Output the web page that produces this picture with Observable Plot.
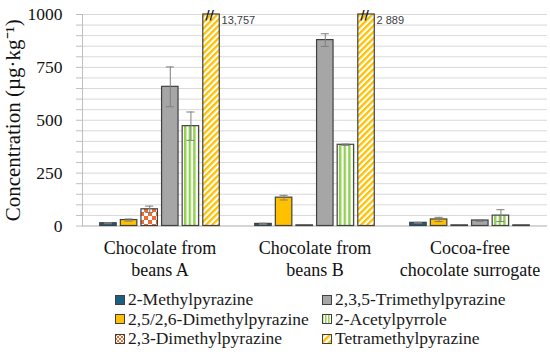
<!DOCTYPE html>
<html><head><meta charset="utf-8">
<script src="https://cdn.jsdelivr.net/npm/d3@7"></script>
<script src="https://cdn.jsdelivr.net/npm/@observablehq/plot@0.6"></script>
<style>
body{margin:0;background:#fff;width:550px;height:355px;overflow:hidden;position:relative;
  font-family:"Liberation Serif","Times New Roman",serif;color:#1a1a1a;}
#legend{position:absolute;left:115px;top:290px;display:grid;grid-template-columns:207px auto;
  grid-template-rows:repeat(3,19.5px);grid-auto-flow:column;font-size:17.5px;line-height:19.5px;}
.item{display:flex;align-items:center;white-space:nowrap}
.item svg{margin-right:3px;flex:none}
</style></head><body>
<svg width="0" height="0" style="position:absolute"><defs>
<pattern id="pChecker" width="8" height="8" patternUnits="userSpaceOnUse"><rect width="8" height="8" fill="#fff"/><rect width="4" height="4" fill="#ee6b33"/><rect x="4" y="4" width="4" height="4" fill="#ee6b33"/></pattern>
<pattern id="pVert" width="4.6" height="10" patternUnits="userSpaceOnUse"><rect width="4.6" height="10" fill="#fff"/><rect width="2.4" height="10" fill="#92d050"/></pattern>
<pattern id="pDiag" width="4.4" height="10" patternUnits="userSpaceOnUse" patternTransform="rotate(45)"><rect width="4.4" height="10" fill="#fff"/><rect width="2.3" height="10" fill="#ffc000"/></pattern>
<pattern id="pCheckerS" width="4" height="4" patternUnits="userSpaceOnUse"><rect width="4" height="4" fill="#fff"/><rect width="2" height="2" fill="#ee6b33"/><rect x="2" y="2" width="2" height="2" fill="#ee6b33"/></pattern>
<pattern id="pVertS" width="3" height="10" patternUnits="userSpaceOnUse"><rect width="3" height="10" fill="#fff"/><rect width="1.5" height="10" fill="#92d050"/></pattern>
<pattern id="pDiagS" width="5" height="10" patternUnits="userSpaceOnUse" patternTransform="rotate(45)"><rect width="5" height="10" fill="#fff"/><rect width="2.5" height="10" fill="#ffc000"/></pattern>
</defs></svg>
<div id="chart"></div>
<div id="legend"></div>
<script>
// ---- data ----
const groups = ["Chocolate from beans A", "Chocolate from beans B", "Cocoa-free chocolate surrogate"];
const groupLabels = ["Chocolate from\nbeans A", "Chocolate from\nbeans B", "Cocoa-free\nchocolate surrogate"];
const compounds = ["2-Methylpyrazine", "2,5/2,6-Dimethylpyrazine", "2,3-Dimethylpyrazine",
                   "2,3,5-Trimethylpyrazine", "2-Acetylpyrrole", "Tetramethylpyrazine"];
// mean values (µg/kg) per group: A, B, surrogate
const methyl      = [13, 10, 15];
const dimethyl25  = [28, 134, 31];
const dimethyl23  = [79, 3, 3];
const trimethyl   = [658, 879, 26];
const acetyl      = [472, 384, 49];
const tetramethyl = [13757, 2889, 3];
// standard deviations
const methylErr      = [2, 3, 2];
const dimethyl25Err  = [5, 11, 10];
const dimethyl23Err  = [15, 0, 0];
const trimethylErr   = [94, 30, 4];
const acetylErr      = [67, 3, 28];
const tetramethylErr = [0, 0, 0];
// labels printed beside off-scale bars
const offScaleLabels = ["13,757", "2 889", ""];
const yTicks = [0, 250, 500, 750, 1000];
const yLabel = "Concentration (µg·kg⁻¹)";

const series = [methyl, dimethyl25, dimethyl23, trimethyl, acetyl, tetramethyl];
const errors = [methylErr, dimethyl25Err, dimethyl23Err, trimethylErr, acetylErr, tetramethylErr];
const fills = ["#1c5f80", "#ffc000", "url(#pChecker)", "#a6a6a6", "url(#pVert)", "url(#pDiag)"];
const swatchFills = ["#1c5f80", "#ffc000", "url(#pCheckerS)", "#a6a6a6", "url(#pVertS)", "url(#pDiagS)"];

const rows = [];
groups.forEach((g, gi) => compounds.forEach((c, ci) => rows.push({
  group: g, compound: c, value: series[ci][gi], err: errors[ci][gi],
  label: ci === compounds.length - 1 ? offScaleLabels[gi] : ""
})));
const groupRows = groups.map((g, i) => ({group: g, label: groupLabels[i]}));
const yMax = yTicks[yTicks.length - 1];
const errRows = rows.filter(d => d.err > 0 && d.value < yMax);
const offRows = rows.filter(d => d.value > yMax);

const serif = '"Liberation Serif", "Times New Roman", serif';

const chart = Plot.plot({
  width: 550, height: 285,
  marginTop: 14, marginBottom: 59.5, marginLeft: 82, marginRight: 3,
  style: {fontFamily: serif, fontSize: "18px", color: "#111", background: "transparent", overflow: "visible"},
  fx: {domain: groups, padding: 0, axis: null, round: false},
  x: {domain: compounds, paddingInner: 0.2, paddingOuter: 0.86, axis: null, round: false},
  y: {domain: [0, yMax], clamp: true, axis: null},
  color: {domain: compounds, range: fills},
  marks: [
    Plot.gridY({ticks: 20, stroke: "#d9d9d9", strokeOpacity: 1}),
    Plot.axisY({ticks: 20, tickSize: 6, tickFormat: () => "", label: null, stroke: "#bfbfbf", strokeOpacity: 1}),
    Plot.axisY(yTicks, {tickSize: 0, tickPadding: 20, fontSize: 17.5, tickFormat: d => String(d), label: null}),
    Plot.axisY({ticks: [], tickSize: 0, label: yLabel, labelAnchor: "center", labelArrow: "none", labelOffset: 77, fontSize: 21}),
    Plot.frame({anchor: "left", facetAnchor: "left", stroke: "#bfbfbf"}),
    Plot.ruleY([0], {stroke: "#bfbfbf"}),
    Plot.barY(rows, {fx: "group", x: "compound", y: "value", fill: "compound", stroke: "#404040", strokeWidth: 1.2}),
    Plot.ruleX(errRows, {fx: "group", x: "compound", y1: d => d.value - d.err, y2: d => d.value + d.err, stroke: "#7f7f7f", strokeWidth: 1}),
    Plot.tickY(errRows, {fx: "group", x: "compound", y: d => d.value - d.err, stroke: "#7f7f7f", strokeWidth: 1, insetLeft: 4.2, insetRight: 4.2}),
    Plot.tickY(errRows, {fx: "group", x: "compound", y: d => d.value + d.err, stroke: "#7f7f7f", strokeWidth: 1, insetLeft: 4.2, insetRight: 4.2}),
    Plot.text(offRows, {fx: "group", x: "compound", y: "value", text: () => "//", fontFamily: "DejaVu Sans", fontWeight: "bold", fontSize: 12, fill: "#111", dx: -2, dy: 1, lineAnchor: "middle", letterSpacing: -1}),
    Plot.text(offRows, {fx: "group", x: "compound", y: "value", text: "label", textAnchor: "start", dx: 10, dy: 6, lineAnchor: "middle", fontFamily: "Liberation Sans, Arial, sans-serif", fontSize: 11, fill: "#404040"}),
    Plot.text(groupRows, {fx: "group", text: "label", frameAnchor: "bottom", lineAnchor: "top", dy: 12, fontSize: 18, lineHeight: 1.22})
  ]
});
document.getElementById("chart").appendChild(chart);

// ---- legend ----
const legend = d3.select("#legend");
compounds.forEach((c, i) => {
  const item = legend.append("div").attr("class", "item");
  const sw = item.append("svg").attr("width", 10).attr("height", 10);
  sw.append("rect").attr("x", 0.5).attr("y", 0.5).attr("width", 9).attr("height", 9)
    .attr("fill", swatchFills[i]).attr("stroke", "#404040").attr("stroke-width", 1);
  item.append("span").text(c);
});
</script></body></html>
